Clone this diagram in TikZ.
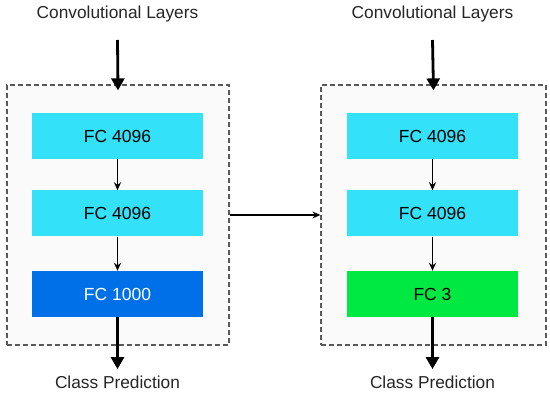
\documentclass[tikz,border=0pt]{standalone}
\usepackage{fontspec}
\setmainfont{Liberation Sans}
\usepackage{xcolor}
\usetikzlibrary{arrows.meta,positioning}
\definecolor{fccyan}{RGB}{51,225,248}
\definecolor{fcblue}{RGB}{0,112,232}
\definecolor{fcgreen}{RGB}{0,232,66}
\definecolor{panelgray}{RGB}{250,250,250}

\begin{document}
\begin{tikzpicture}[x=1pt,y=-1pt,
    fc/.style={minimum width=171pt, minimum height=46pt, inner sep=0pt, font=\fontsize{17.5}{20}\selectfont},
    panel/.style={draw=black!65, fill=panelgray, line width=1.2pt, dash pattern=on 5pt off 3pt, minimum width=222pt, minimum height=260pt, inner sep=0pt},
    caption/.style={font=\fontsize{17.3}{20}\selectfont, text=black!85},
    smallarrow/.style={-{Stealth[length=8pt,width=7pt]}, line width=1.3pt},
    bigarrow/.style={-{Triangle[length=12pt,width=13pt]}, line width=2.8pt}]
    \useasboundingbox (0,0) rectangle (550,395);
    % Left: original classifier
    \begin{scope}[shift={(0,0)}]
        \node[panel] (box1) at (118,215) {};
        \node[caption] (conv1) at (117.5,14) {Convolutional Layers};
        \node[fc, fill=fccyan] (fc1a) at (117.5,136) {FC 4096};
        \node[fc, fill=fccyan] (fc1b) at (117.5,213.5) {FC 4096};
        \node[fc, fill=fcblue, text=white] (fc1c) at (117.5,294) {FC 1000};
        \node[caption] (pred1) at (117.5,382) {Class Prediction};
        \coordinate (in1) at (117.5,40);
        \draw[bigarrow] (in1) -- ([yshift=-6pt]box1.north);
        \draw[smallarrow] (fc1a) -- (fc1b);
        \draw[smallarrow] (fc1b) -- (fc1c);
        \draw[bigarrow] (fc1c) -- ([yshift=3pt]pred1.north);
    \end{scope}
    % Right: fine-tuned classifier
    \begin{scope}[shift={(315,0)}]
        \node[panel, minimum width=225pt] (box2) at (118.5,215) {};
        \node[caption] (conv2) at (117.5,14) {Convolutional Layers};
        \node[fc, fill=fccyan] (fc2a) at (117.5,136) {FC 4096};
        \node[fc, fill=fccyan] (fc2b) at (117.5,213.5) {FC 4096};
        \node[fc, fill=fcgreen] (fc2c) at (117.5,294) {FC 3};
        \node[caption] (pred2) at (117.5,382) {Class Prediction};
        \coordinate (in2) at (117.5,40);
        \draw[bigarrow] (in2) -- ([yshift=-6pt]box2.north);
        \draw[smallarrow] (fc2a) -- (fc2b);
        \draw[smallarrow] (fc2b) -- (fc2c);
        \draw[bigarrow] (fc2c) -- ([yshift=3pt]pred2.north);
    \end{scope}
    \draw[smallarrow] (box1.east) -- (box2.west);
\end{tikzpicture}
\end{document}
